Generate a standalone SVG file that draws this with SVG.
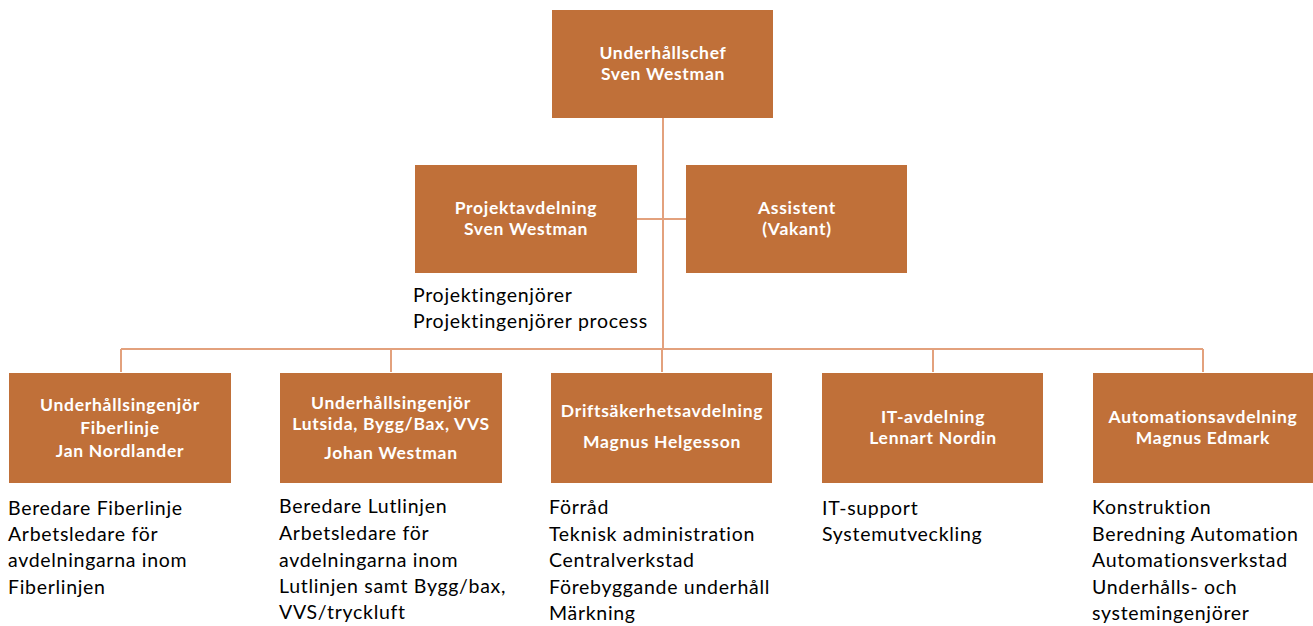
<svg xmlns="http://www.w3.org/2000/svg" width="1313" height="626" viewBox="0 0 1313 626">
<style>
.box{fill:#C07039;}
.bt{font-family:Lato,"Liberation Sans",sans-serif;font-weight:bold;font-size:17.5px;letter-spacing:0.7px;fill:#fff;text-anchor:middle;}
.lt{font-family:Lato,"Liberation Sans",sans-serif;font-size:19.5px;letter-spacing:0.7px;fill:#000;}
.ln{stroke:#E3A17D;stroke-width:2;fill:none;}
</style>
<rect width="1313" height="626" fill="#fff"/>
<g id="connectors">
<path class="ln" d="M663 118 V349 M637 219 H686 M121 349 H1203 M121 349 V372 M391 349 V372 M662 349 V372 M933 349 V372 M1203 349 V372"/>
</g>
<g id="chef"><rect class="box" x="552" y="10" width="221" height="108"/><text class="bt" x="663" y="59">Underhållschef</text><text class="bt" x="663" y="80">Sven Westman</text></g>
<g id="projekt"><rect class="box" x="415" y="165" width="222" height="108"/><text class="bt" x="526" y="214">Projektavdelning</text><text class="bt" x="526" y="235">Sven Westman</text>
<text class="lt" x="413" y="302">Projektingenjörer</text><text class="lt" x="413" y="328">Projektingenjörer process</text></g>
<g id="assistent"><rect class="box" x="686" y="165" width="221" height="108"/><text class="bt" x="797" y="214">Assistent</text><text class="bt" x="797" y="235">(Vakant)</text></g>
<g id="fiber"><rect class="box" x="9" y="373" width="222" height="110"/><text class="bt" x="120" y="411">Underhållsingenjör</text><text class="bt" x="120" y="434">Fiberlinje</text><text class="bt" x="120" y="457">Jan Nordlander</text>
<text class="lt" x="8" y="515">Beredare Fiberlinje</text><text class="lt" x="8" y="541">Arbetsledare för</text><text class="lt" x="8" y="567">avdelningarna inom</text><text class="lt" x="8" y="594">Fiberlinjen</text></g>
<g id="lutsida"><rect class="box" x="280" y="373" width="222" height="110"/><text class="bt" x="391" y="409">Underhållsingenjör</text><text class="bt" x="391" y="430">Lutsida, Bygg/Bax, VVS</text><text class="bt" x="391" y="459">Johan Westman</text>
<text class="lt" x="279" y="513">Beredare Lutlinjen</text><text class="lt" x="279" y="540">Arbetsledare för</text><text class="lt" x="279" y="567">avdelningarna inom</text><text class="lt" x="279" y="593">Lutlinjen samt Bygg/bax,</text><text class="lt" x="279" y="619">VVS/tryckluft</text></g>
<g id="drift"><rect class="box" x="551" y="373" width="221" height="110"/><text class="bt" x="662" y="417">Driftsäkerhetsavdelning</text><text class="bt" x="662" y="448">Magnus Helgesson</text>
<text class="lt" x="549" y="514">Förråd</text><text class="lt" x="549" y="541">Teknisk administration</text><text class="lt" x="549" y="567">Centralverkstad</text><text class="lt" x="549" y="594">Förebyggande underhåll</text><text class="lt" x="549" y="620">Märkning</text></g>
<g id="it"><rect class="box" x="822" y="373" width="221" height="110"/><text class="bt" x="933" y="423">IT-avdelning</text><text class="bt" x="933" y="444">Lennart Nordin</text>
<text class="lt" x="822" y="515">IT-support</text><text class="lt" x="822" y="541">Systemutveckling</text></g>
<g id="automation"><rect class="box" x="1093" y="373" width="220" height="110"/><text class="bt" x="1203" y="423">Automationsavdelning</text><text class="bt" x="1203" y="444">Magnus Edmark</text>
<text class="lt" x="1092" y="514">Konstruktion</text><text class="lt" x="1092" y="541">Beredning Automation</text><text class="lt" x="1092" y="567">Automationsverkstad</text><text class="lt" x="1092" y="594">Underhålls- och</text><text class="lt" x="1092" y="620">systemingenjörer</text></g>
</svg>
